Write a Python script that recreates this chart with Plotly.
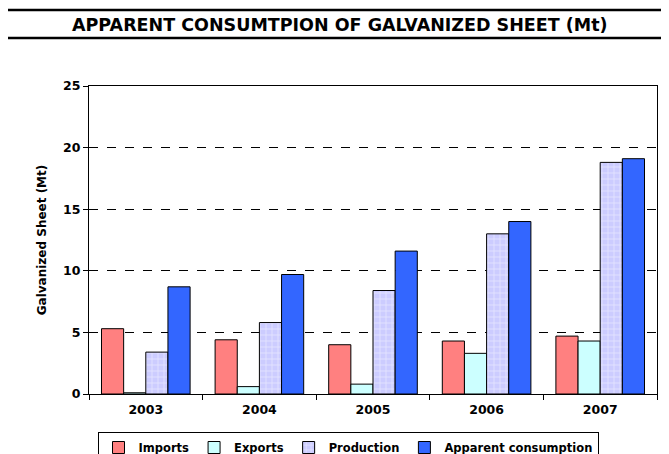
import plotly.graph_objects as go

years = ["2003", "2004", "2005", "2006", "2007"]
imports = [5.3, 4.4, 4.0, 4.3, 4.7]
exports = [0.1, 0.6, 0.8, 3.3, 4.3]
production = [3.4, 5.8, 8.4, 13.0, 18.8]
apparent = [8.7, 9.7, 11.6, 14.0, 19.1]

FONT = "DejaVu Sans, Liberation Sans, Arial"

# page body has an 8px margin, so target pixel positions are shifted by that
OFF = 8
W, H = 669, 454
L, R, T, B = 89 - OFF, 20, 86 - OFF, 68
PW, PH = W - L - R, H - T - B


def px_x(x):
    return (x - OFF - L) / PW


def px_y(y):
    return (H - B - (y - OFF)) / PH


fig = go.Figure()
fig.add_trace(go.Bar(x=years, y=imports, name="Imports",
                     marker=dict(color="#ff8080", line=dict(color="black", width=1))))
fig.add_trace(go.Bar(x=years, y=exports, name="Exports",
                     marker=dict(color="#ccffff", line=dict(color="black", width=1))))
fig.add_trace(go.Bar(x=years, y=production, name="Production",
                     marker=dict(color="#ccccff", line=dict(color="black", width=1),
                                 pattern=dict(shape="+", fgcolor="white", bgcolor="#ccccff",
                                              size=6, solidity=0.25))))
fig.add_trace(go.Bar(x=years, y=apparent, name="Apparent consumption",
                     marker=dict(color="#3366ff", line=dict(color="black", width=1))))

fig.update_layout(
    width=W, height=H,
    margin=dict(l=L, r=R, t=T, b=B, autoexpand=False),
    paper_bgcolor="white", plot_bgcolor="white",
    font=dict(family=FONT, color="black", size=12),
    barmode="group", bargap=0.22, bargroupgap=0,
    showlegend=True,
    legend=dict(orientation="h", xref="paper", yref="container",
                x=px_x(348), xanchor="center", y=1 - (432 - OFF) / H, yanchor="top",
                bordercolor="black", borderwidth=1, font=dict(size=11.5, weight="bold"),
                itemwidth=30, tracegroupgap=0, traceorder="normal"),
)
fig.update_xaxes(showline=True, linecolor="black", linewidth=1, mirror=True,
                 ticks="outside", tickson="boundaries", ticklen=5, tickcolor="black",
                 tickfont=dict(size=12.5), automargin=False, ticklabelstandoff=4,
                 tickprefix="<b>", ticksuffix="</b>")
fig.update_yaxes(range=[0, 25], dtick=5, showline=True, linecolor="black", linewidth=1,
                 mirror=True, ticks="outside", ticklen=5, tickcolor="black",
                 showgrid=True, gridcolor="black", griddash="dash", gridwidth=1,
                 zeroline=False, tickprefix="<b>", ticksuffix="</b>",
                 tickfont=dict(size=12.5), automargin=False,
                 title=dict(text="<b>Galvanized Sheet (Mt)</b>", font=dict(size=12), standoff=13))

# title with rules above and below
fig.add_annotation(text="<b>APPARENT CONSUMTPION OF GALVANIZED SHEET (Mt)</b>",
                   xref="paper", yref="paper", x=px_x(340), y=px_y(25),
                   showarrow=False, font=dict(size=17.5), xanchor="center", yanchor="middle")
for yy in (10, 38):
    fig.add_shape(type="line", xref="paper", yref="paper",
                  x0=px_x(7), x1=px_x(672), y0=px_y(yy), y1=px_y(yy),
                  line=dict(color="black", width=2.5))

fig.write_html("out.html")
